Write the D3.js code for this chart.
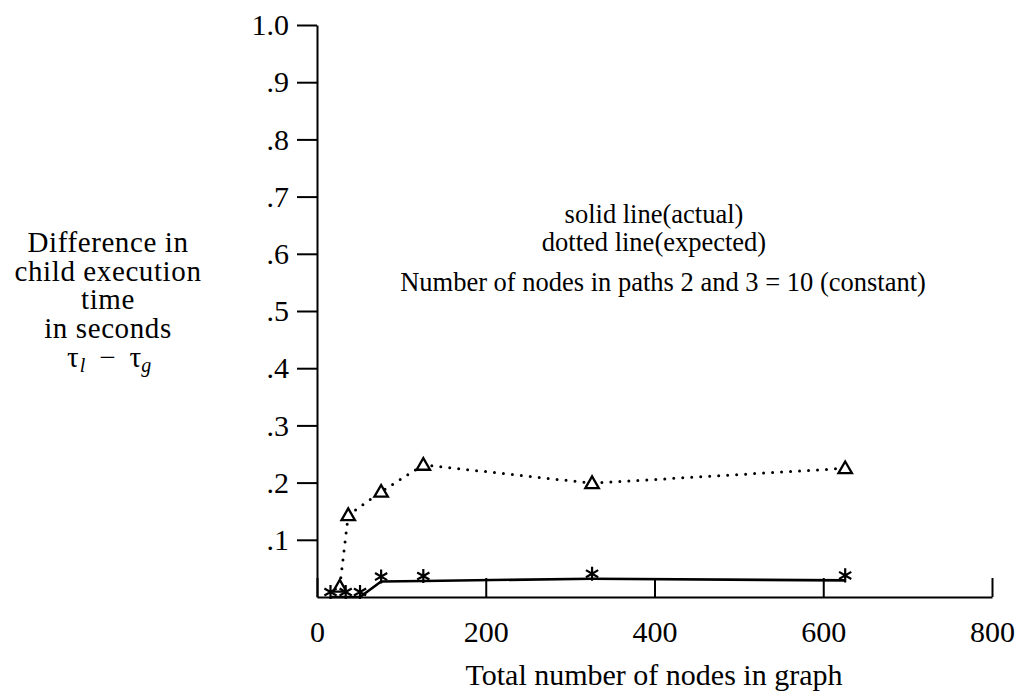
<!DOCTYPE html>
<html>
<head>
<meta charset="utf-8">
<script src="https://cdn.jsdelivr.net/npm/d3@7"></script>
<style>
  body { margin: 0; background: #fff; }
  svg { display: block; font-family: "Liberation Serif", "DejaVu Serif", serif; }
  .axis path, .axis line { stroke: #000; stroke-width: 2; }
  .axis text { fill: #000; font-size: 30px; font-family: "Liberation Serif", serif; }
</style>
</head>
<body>
<div id="chart"></div>
<script>
// data
const nodesActual = [16, 34, 51, 76, 126, 326, 626];
const actual = [0, 0, 0, 0.027, 0.028, 0.032, 0.029];

const nodesExpected = [27, 37, 76, 126, 326, 626];
const expected = [0.018, 0.143, 0.184, 0.231, 0.199, 0.225];

const xTicks = [0, 200, 400, 600, 800];
const yTicks = [0.1, 0.2, 0.3, 0.4, 0.5, 0.6, 0.7, 0.8, 0.9, 1.0];
const yTickLabels = ['.1', '.2', '.3', '.4', '.5', '.6', '.7', '.8', '.9', '1.0'];

const yTitle = ['Difference in', 'child execution', 'time', 'in seconds'];
const notes = ['solid line(actual)', 'dotted line(expected)'];
const note2 = 'Number of nodes in paths 2 and 3 = 10 (constant)';
const xTitle = 'Total number of nodes in graph';

const width = 1025, height = 695;

const svg = d3.select('#chart')
  .append('svg')
  .attr('width', width)
  .attr('height', height);

const x = d3.scaleLinear().domain([0, 800]).range([317, 992]);
const y = d3.scaleLinear().domain([0, 1]).range([597, 25]);

// y axis, ticks pointing outward
const yAxis = d3.axisLeft(y)
  .tickValues(yTicks)
  .tickFormat((d, i) => yTickLabels[i])
  .tickSizeInner(20)
  .tickSizeOuter(0)
  .tickPadding(8);

svg.append('g')
  .attr('class', 'axis')
  .attr('transform', 'translate(' + x(0) + ',0)')
  .call(yAxis);

// x axis, ticks pointing up into the plot
const xAxis = d3.axisBottom(x)
  .tickValues(xTicks)
  .tickSizeInner(-19)
  .tickSizeOuter(0)
  .tickPadding(24);

svg.append('g')
  .attr('class', 'axis')
  .attr('transform', 'translate(0,' + y(0) + ')')
  .call(xAxis);

// expected (dotted) line
const expData = nodesExpected.map((n, i) => ({x: n, y: expected[i]}));
const actData = nodesActual.map((n, i) => ({x: n, y: actual[i]}));

const line = d3.line().x(d => x(d.x)).y(d => y(d.y));

svg.append('path')
  .datum(expData)
  .attr('d', line)
  .attr('fill', 'none')
  .attr('stroke', '#000')
  .attr('stroke-width', 3)
  .attr('stroke-linecap', 'round')
  .attr('stroke-dasharray', '0,9');

svg.append('path')
  .datum(actData)
  .attr('d', line)
  .attr('fill', 'none')
  .attr('stroke', '#000')
  .attr('stroke-width', 2.6);

// triangles
svg.selectAll('.tri')
  .data(expData)
  .enter()
  .append('path')
  .attr('class', 'tri')
  .attr('transform', d => 'translate(' + x(d.x) + ',' + (y(d.y) + 1) + ')')
  .attr('d', d3.symbol(d3.symbolTriangle2, 130))
  .attr('fill', '#fff')
  .attr('stroke', '#000')
  .attr('stroke-width', 2.3);

// asterisks sit a little above the line like typed glyphs
svg.selectAll('.star')
  .data(actData)
  .enter()
  .append('path')
  .attr('class', 'star')
  .attr('transform', d => 'translate(' + x(d.x) + ',' + (y(d.y) - 5) + ')')
  .attr('d', d3.symbol(d3.symbolAsterisk, 140))
  .attr('fill', 'none')
  .attr('stroke', '#000')
  .attr('stroke-width', 2.2);

// y title
const yt = svg.append('text')
  .attr('text-anchor', 'middle')
  .attr('font-size', 29)
  .attr('letter-spacing', 0.6)
  .attr('fill', '#000');

yTitle.forEach(function(t, i){
  yt.append('tspan').attr('x', 108).attr('y', 252 + i * 28.5).text(t);
});

const tau = svg.append('text')
  .attr('x', 67)
  .attr('y', 367)
  .attr('font-size', 29)
  .attr('fill', '#000');
tau.append('tspan').text('\u03C4');
tau.append('tspan').attr('font-size', 20).attr('font-style', 'italic').attr('dy', 5).attr('dx', 1).text('l');
tau.append('tspan').attr('dy', -5).attr('dx', 14).text('\u2212');
tau.append('tspan').attr('dx', 14).text('\u03C4');
tau.append('tspan').attr('font-size', 20).attr('font-style', 'italic').attr('dy', 5).text('g');

// notes in the plot
notes.forEach(function(t, i){
  svg.append('text')
    .attr('x', 654)
    .attr('y', 223 + i * 28)
    .attr('text-anchor', 'middle')
    .attr('font-size', 26.5)
    .attr('fill', '#000')
    .text(t);
});

svg.append('text')
  .attr('x', 663)
  .attr('y', 291)
  .attr('text-anchor', 'middle')
  .attr('font-size', 26.5)
  .attr('fill', '#000')
  .text(note2);

// x title
svg.append('text')
  .attr('x', 654)
  .attr('y', 685)
  .attr('text-anchor', 'middle')
  .attr('font-size', 30)
  .attr('fill', '#000')
  .text(xTitle);
</script>
</body>
</html>
